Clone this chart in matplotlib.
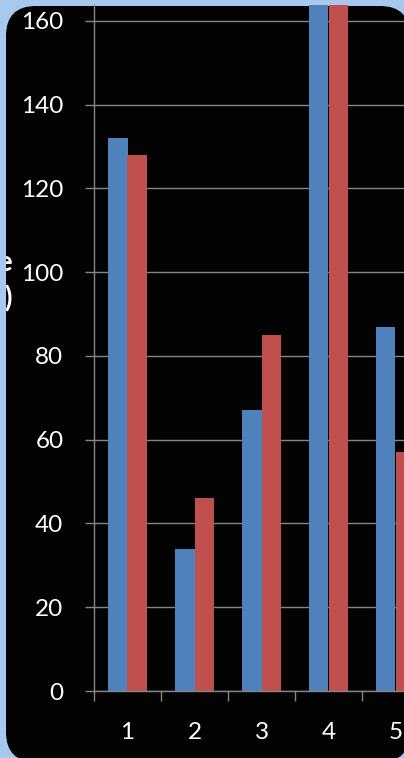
import numpy as np
import matplotlib
matplotlib.use("Agg")
import matplotlib.pyplot as plt
from matplotlib.patches import FancyBboxPatch, Rectangle
from matplotlib.transforms import IdentityTransform

# data (category 4 runs off the top, so its values are a guess)
categories = [1, 2, 3, 4, 5]
series_a = [132, 34, 67, 180, 87]
series_b = [128, 46, 85, 182, 57]
yticks = [0, 20, 40, 60, 80, 100, 120, 140, 160]

W, H = 404, 758
bg = '#a9c9ec'
plt.rcParams['font.family'] = ['Lato', 'DejaVu Sans']

fig = plt.figure(figsize=(W / 100, H / 100), dpi=100)
fig.patch.set_facecolor(bg)

# black rounded panel, pixel coordinates
panel = FancyBboxPatch((6, H - 762), 404, 756,
                       boxstyle='round,pad=0,rounding_size=30',
                       transform=IdentityTransform(),
                       facecolor='#030303', edgecolor='none', zorder=-1)
fig.add_artist(panel)

# axis title, cut off by the left border as in the original
fig.text(13 / W, 1 - 281 / H, 'Value\n(s)', ha='right', va='center',
         multialignment='right', color='white', fontsize=20,
         fontweight='bold', linespacing=1.4)
fig.add_artist(Rectangle((0, 0), 6, H, transform=IdentityTransform(),
                         facecolor=bg, edgecolor='none', zorder=10))

ax = fig.add_axes([94 / W, (H - 691) / H, 335 / W, 686 / H])
ax.set_facecolor('none')

x = np.array(categories, dtype=float)
bw = 0.284
ax.bar(x - bw / 2, series_a, width=bw, color='#4f81bd', zorder=3)
ax.bar(x + bw / 2, series_b, width=bw, color='#c0504d', zorder=3)

ax.set_xlim(0.5, 5.5)
ax.set_ylim(0, 163.8)

grid_col = '#858585'
ax.set_yticks(yticks)
ax.yaxis.grid(True, color=grid_col, linewidth=1)
ax.set_axisbelow(True)

ax.set_xticks(np.arange(0.5, 6, 1))
ax.set_xticklabels([])
ax.set_xticks(x, minor=True)
ax.set_xticklabels([str(c) for c in categories], minor=True)

ax.tick_params(axis='y', colors=grid_col, labelcolor='white', labelsize=17.5,
               length=6.5, width=1, pad=15.5)
ax.tick_params(axis='x', which='major', colors=grid_col, length=7.5, width=1)
ax.tick_params(axis='x', which='minor', length=0, labelcolor='white',
               labelsize=17.5, pad=22)

for s in ['top', 'right']:
    ax.spines[s].set_visible(False)
for s in ['left', 'bottom']:
    ax.spines[s].set_color(grid_col)
    ax.spines[s].set_linewidth(1)
    ax.spines[s].set_zorder(4)

fig.savefig('out.png', dpi=100, facecolor=fig.get_facecolor())
